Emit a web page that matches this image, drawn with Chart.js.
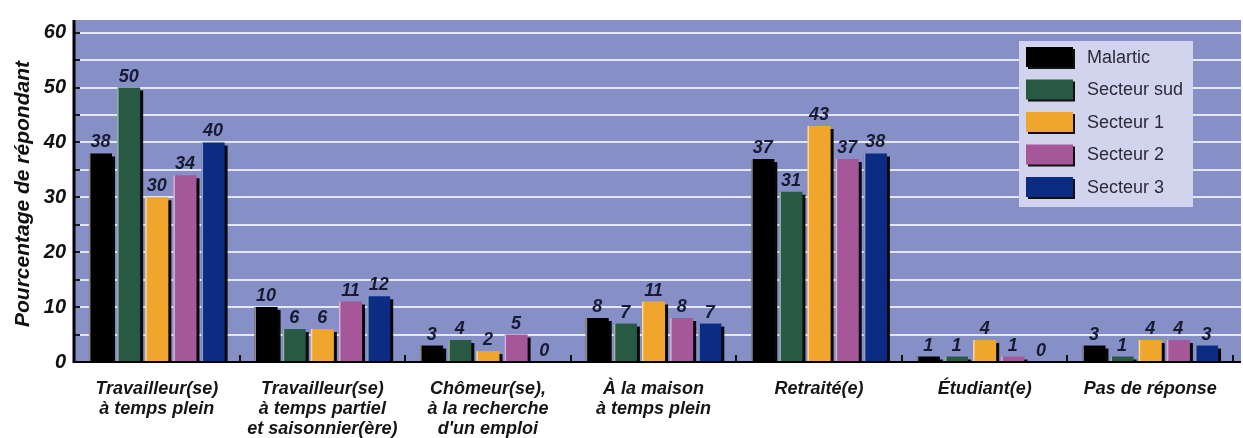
<!DOCTYPE html>
<html><head><meta charset="utf-8">
<script src="https://cdn.jsdelivr.net/npm/chart.js@4.4.1/dist/chart.umd.min.js"></script>
<style>html,body{margin:0;padding:0;background:#fff}#wrap{width:1243px;height:438px}</style>
</head><body><div id="wrap"><canvas id="c" width="1243" height="438"></canvas></div>
<script>
const categories = [
  ['Travailleur(se)', 'à temps plein'],
  ['Travailleur(se)', 'à temps partiel', 'et saisonnier(ère)'],
  ['Chômeur(se),', 'à la recherche', "d'un emploi"],
  ['À la maison', 'à temps plein'],
  ['Retraité(e)'],
  ['Étudiant(e)'],
  ['Pas de réponse']
];
const seriesNames = ['Malartic', 'Secteur sud', 'Secteur 1', 'Secteur 2', 'Secteur 3'];
const malartic   = [38, 10, 3, 8, 37, 1, 3];
const secteurSud = [50, 6, 4, 7, 31, 1, 1];
const secteur1   = [30, 6, 2, 11, 43, 4, 4];
const secteur2   = [34, 11, 5, 8, 37, 1, 4];
const secteur3   = [40, 12, 0, 7, 38, 0, 3];
const yTicks = [0, 5, 10, 15, 20, 25, 30, 35, 40, 45, 50, 55, 60];
const yTickLabels = ['0', '', '10', '', '20', '', '30', '', '40', '', '50', '', '60'];
const yTitle = 'Pourcentage de répondant';

const colors = ['#000000', '#285a43', '#f0a52c', '#a5579a', '#0b2c82'];
const FONT = "'Liberation Sans', Arial, sans-serif";

const decor = {
  id: 'decor',
  beforeDraw(chart) {
    const ctx = chart.ctx, a = chart.chartArea, y = chart.scales.y, x = chart.scales.x;
    const rightExt = 1241;
    ctx.save();
    ctx.fillStyle = '#8790c6';
    ctx.fillRect(a.left, a.top, rightExt - a.left, a.bottom - a.top);
    yTicks.forEach(v => {
      if (v === 0) return;
      const py = Math.round(y.getPixelForValue(v));
      ctx.strokeStyle = '#e3e6f5';
      ctx.lineWidth = 2;
      ctx.beginPath(); ctx.moveTo(a.left + 6, py); ctx.lineTo(rightExt, py); ctx.stroke();
      ctx.strokeStyle = '#1a1a2a';
      ctx.beginPath(); ctx.moveTo(a.left, py); ctx.lineTo(a.left + 6, py); ctx.stroke();
    });
    ctx.strokeStyle = '#111';
    ctx.lineWidth = 2;
    for (let i = 0; i < categories.length; i++) {
      let bx;
      if (i < categories.length - 1) bx = (x.getPixelForValue(i) + x.getPixelForValue(i + 1)) / 2;
      else bx = a.right;
      ctx.beginPath(); ctx.moveTo(Math.round(bx), a.bottom - 7); ctx.lineTo(Math.round(bx), a.bottom); ctx.stroke();
    }
    ctx.translate(23, (a.top + a.bottom) / 2 + 3);
    ctx.rotate(-Math.PI / 2);
    ctx.fillStyle = '#111';
    ctx.font = 'italic bold 21px ' + FONT;
    ctx.textAlign = 'center';
    ctx.textBaseline = 'middle';
    ctx.fillText(yTitle, 0, 0);
    ctx.restore();
  },
  beforeDatasetsDraw(chart) {
    const ctx = chart.ctx;
    ctx.save();
    ctx.shadowColor = 'rgba(0,0,0,0.95)';
    ctx.shadowBlur = 0;
    ctx.shadowOffsetX = 3;
    ctx.shadowOffsetY = 3;
  },
  afterDatasetsDraw(chart) {
    const ctx = chart.ctx, a = chart.chartArea;
    ctx.restore();
    ctx.save();
    chart.data.datasets.forEach((ds, di) => {
      const meta = chart.getDatasetMeta(di);
      meta.data.forEach((bar, i) => {
        const v = ds.data[i];
        const left = bar.x - bar.width / 2;
        if (v > 0) {
          ctx.fillStyle = 'rgba(255,255,255,0.55)';
          ctx.fillRect(left, bar.y, 1.5, bar.base - bar.y);
        }
        ctx.fillStyle = '#181a33';
        ctx.font = 'italic bold 18px ' + FONT;
        ctx.textAlign = 'center';
        ctx.textBaseline = 'alphabetic';
        ctx.fillText(String(v), bar.x, bar.y - 6);
      });
    });
    ctx.strokeStyle = '#000';
    ctx.lineWidth = 3;
    ctx.beginPath(); ctx.moveTo(a.left, a.top); ctx.lineTo(a.left, a.bottom + 1); ctx.stroke();
    ctx.lineWidth = 2;
    ctx.beginPath(); ctx.moveTo(a.left, a.bottom); ctx.lineTo(1241, a.bottom); ctx.stroke();
    ctx.restore();
  },
  afterDraw(chart) {
    const ctx = chart.ctx;
    ctx.save();
    const bx = 1019, by = 41, bw = 174, bh = 166;
    ctx.fillStyle = '#d2d4ee';
    ctx.fillRect(bx, by, bw, bh);
    chart.data.datasets.forEach((ds, i) => {
      const sy = by + 6 + i * 32.5;
      ctx.fillStyle = '#111';
      ctx.fillRect(bx + 9, sy + 2, 47, 20);
      ctx.fillStyle = ds.backgroundColor;
      ctx.fillRect(bx + 7, sy, 47, 20);
      ctx.fillStyle = '#2a2a38';
      ctx.font = '18px ' + FONT;
      ctx.textAlign = 'left';
      ctx.textBaseline = 'middle';
      ctx.fillText(ds.label, bx + 68, sy + 11);
    });
    ctx.restore();
  }
};

const seriesValues = [malartic, secteurSud, secteur1, secteur2, secteur3];

new Chart(document.getElementById('c'), {
  type: 'bar',
  data: {
    labels: categories,
    datasets: seriesNames.map((n, i) => ({
      label: n,
      data: seriesValues[i],
      backgroundColor: colors[i],
      borderWidth: 0,
      categoryPercentage: 0.85,
      barPercentage: 0.82
    }))
  },
  options: {
    responsive: false,
    animation: false,
    devicePixelRatio: 1,
    layout: { padding: { top: 14, right: 10, left: 0, bottom: 0 } },
    plugins: { legend: { display: false }, tooltip: { enabled: false } },
    scales: {
      x: {
        grid: { display: false, drawTicks: false },
        border: { display: false },
        ticks: {
          color: '#151515',
          font: { family: FONT, size: 18, style: 'italic', weight: 'bold', lineHeight: 1.12 },
          padding: 17,
          maxRotation: 0,
          autoSkip: false
        },
        afterFit(s) { s.height = 76; }
      },
      y: {
        min: 0,
        max: 62.3,
        grid: { display: false, drawTicks: false },
        border: { display: false },
        afterBuildTicks(axis) { axis.ticks = yTicks.map(v => ({ value: v })); },
        ticks: {
          color: '#111',
          font: { family: FONT, size: 20, style: 'italic', weight: 'bold' },
          padding: 8,
          callback: (v) => yTickLabels[yTicks.indexOf(v)] ?? ''
        },
        afterFit(s) { s.width = 74; }
      }
    }
  },
  plugins: [decor]
});
</script>
</body></html>
